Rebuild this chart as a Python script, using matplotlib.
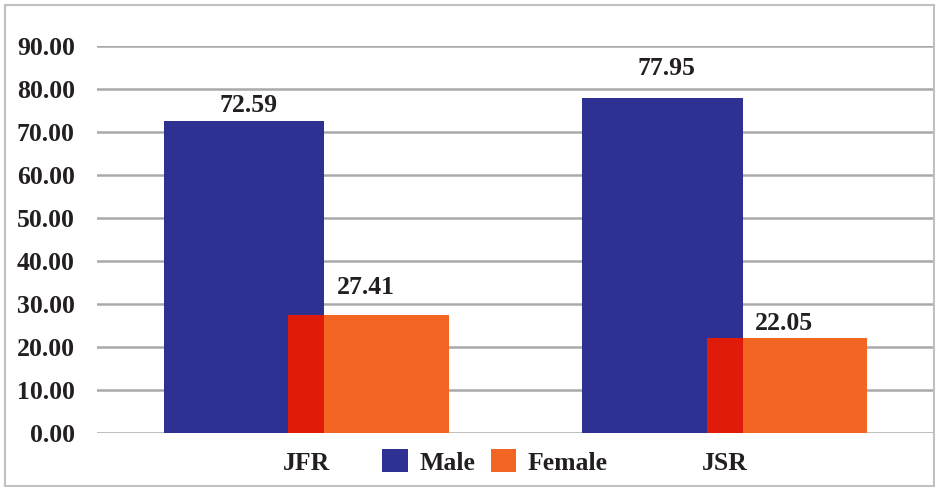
import matplotlib.pyplot as plt
import numpy as np
from matplotlib.patches import Patch, Rectangle

plt.rcParams["font.family"] = ["Liberation Serif", "DejaVu Serif"]
plt.rcParams["font.weight"] = "bold"

journals = ["JFR", "JSR"]
male = [72.59, 77.95]
female = [27.41, 22.05]
yticks = [0, 10, 20, 30, 40, 50, 60, 70, 80, 90]

# lift (in points) of each value label above its bar
male_pad = [3, 12.5]
female_pad = [11.5, 2]

c_male = "#2E3192"
c_female = "#F26522"
c_overlap = "#E11B0A"
c_text = "#231F20"
c_grid = "#A7A9AC"

width = 0.383
shift = 0.1485
x = np.arange(len(journals))

fig = plt.figure(figsize=(9.35, 4.87), dpi=100)
ax = fig.add_axes([97 / 935, 54 / 487, 837 / 935, 387 / 487])

ax.bar(x - shift, male, width, color=c_male, zorder=2)
ax.bar(x + shift, female, width, color=c_female, zorder=3)
# where the female bar sits over the male bar it turns red
overlap = width - 2 * shift
ax.bar(x + shift - width / 2, female, overlap, align="edge",
       color=c_overlap, zorder=4)

for xi, v, p in zip(x - shift, male, male_pad):
    ax.annotate(f"{v:.2f}", (xi, v), xytext=(3, p), textcoords="offset points",
                ha="center", va="bottom", fontsize=18.5, fontweight="bold",
                color=c_text)
for xi, v, p in zip(x + shift, female, female_pad):
    ax.annotate(f"{v:.2f}", (xi, v), xytext=(-2, p), textcoords="offset points",
                ha="center", va="bottom", fontsize=18.5, fontweight="bold",
                color=c_text)

ax.set_xlim(-0.5, 1.5)
ax.set_ylim(0, 90)
ax.set_yticks(yticks)
ax.set_yticklabels([f"{t:.2f}" for t in yticks])
ax.set_xticks(x)
ax.set_xticklabels(journals)
ax.yaxis.grid(True, color=c_grid, linewidth=1.8, zorder=0)
ax.set_axisbelow(True)
ax.tick_params(axis="y", length=0, pad=16, labelsize=18.5, labelcolor=c_text)
ax.tick_params(axis="x", length=0, pad=14, labelsize=18.5, labelcolor=c_text)
for s in ax.spines.values():
    s.set_visible(False)

handles = [Patch(facecolor=c_male, label="Male"),
           Patch(facecolor=c_female, label="Female")]
fig.legend(handles=handles, loc="center", bbox_to_anchor=(495 / 935, 25 / 487),
           ncol=2, frameon=False, handlelength=1.0, handleheight=1.0,
           handletextpad=0.45, columnspacing=0.6,
           prop={"size": 18.5, "weight": "bold"}, labelcolor=c_text)

# outer frame
fig.patches.append(Rectangle((5 / 935, 1 / 487), 929 / 935, 481 / 487,
                             transform=fig.transFigure, fill=False,
                             edgecolor="#C0C0C0", linewidth=1.5))

fig.savefig("out.png", dpi=100, facecolor="white")
